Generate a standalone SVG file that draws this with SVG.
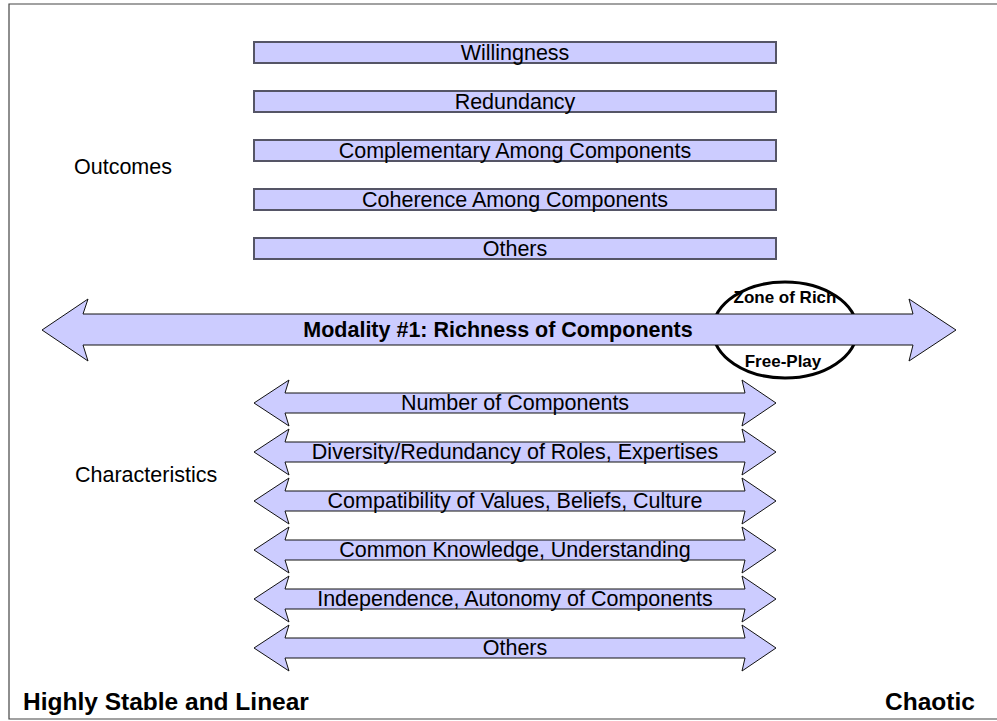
<svg xmlns="http://www.w3.org/2000/svg" width="997" height="721" viewBox="0 0 997 721">
  <style>
    .bg { fill: #ffffff; }
    .frame { fill: none; stroke: #444444; stroke-width: 1.2; }
    .box { fill: #ccccff; stroke: #555566; stroke-width: 2; }
    .arrow { fill: #ccccff; stroke: #111111; stroke-width: 1; stroke-linejoin: miter; }
    .zone { fill: #ffffff; stroke: #000000; stroke-width: 3; }
    .t { font-family: "Liberation Sans", Arial, sans-serif; font-size: 21.5px; fill: #000000; }
    .c { text-anchor: middle; }
    .b { font-weight: bold; }
    .zt { font-family: "Liberation Sans", Arial, sans-serif; font-size: 17px; font-weight: bold; text-anchor: middle; fill: #000000; }
    .end { font-family: "Liberation Sans", Arial, sans-serif; font-size: 24.5px; font-weight: bold; fill: #000000; }
  </style>
  <defs>
    <!-- double-headed characteristic arrow, centred on y = 0 -->
    <path id="charArrow" d="M254,0 L289,-23 L285,-10 L745,-10 L742,-23 L776,0 L742,23 L745,10 L285,10 L289,23 Z"/>
  </defs>

  <rect class="bg" x="0" y="0" width="997" height="721"/>
  <path class="frame" d="M1000,4 L9,4 L9,719 L1000,719"/>

  <!-- side labels -->
  <text class="t" x="74" y="174">Outcomes</text>
  <text class="t" x="75" y="482">Characteristics</text>

  <!-- outcome bars -->
  <g id="outcome-willingness">
    <rect class="box" x="254" y="42" width="522" height="21"/>
    <text class="t c" x="515" y="60">Willingness</text>
  </g>
  <g id="outcome-redundancy">
    <rect class="box" x="254" y="91" width="522" height="21"/>
    <text class="t c" x="515" y="109">Redundancy</text>
  </g>
  <g id="outcome-complementary">
    <rect class="box" x="254" y="140" width="522" height="21"/>
    <text class="t c" x="515" y="158">Complementary Among Components</text>
  </g>
  <g id="outcome-coherence">
    <rect class="box" x="254" y="189" width="522" height="21"/>
    <text class="t c" x="515" y="207">Coherence Among Components</text>
  </g>
  <g id="outcome-others">
    <rect class="box" x="254" y="238" width="522" height="21"/>
    <text class="t c" x="515" y="256">Others</text>
  </g>

  <!-- modality axis with zone of rich free-play -->
  <g id="zone">
    <ellipse class="zone" cx="785" cy="330" rx="72" ry="48"/>
    <text class="zt" x="785" y="303">Zone of Rich</text>
    <text class="zt" x="783" y="367">Free-Play</text>
  </g>
  <g id="modality">
    <path class="arrow" d="M42,330 L88,299 L83,314 L913,314 L909,299 L956,330 L909,361 L913,345 L83,345 L88,361 Z"/>
    <text class="t c b" x="498" y="337">Modality #1: Richness of Components</text>
  </g>

  <!-- characteristic arrows -->
  <g id="char-number">
    <use href="#charArrow" class="arrow" transform="translate(0,403)"/>
    <text class="t c" x="515" y="410">Number of Components</text>
  </g>
  <g id="char-diversity">
    <use href="#charArrow" class="arrow" transform="translate(0,452)"/>
    <text class="t c" x="515" y="459">Diversity/Redundancy of Roles, Expertises</text>
  </g>
  <g id="char-compatibility">
    <use href="#charArrow" class="arrow" transform="translate(0,501)"/>
    <text class="t c" x="515" y="508">Compatibility of Values, Beliefs, Culture</text>
  </g>
  <g id="char-knowledge">
    <use href="#charArrow" class="arrow" transform="translate(0,550)"/>
    <text class="t c" x="515" y="557">Common Knowledge, Understanding</text>
  </g>
  <g id="char-independence">
    <use href="#charArrow" class="arrow" transform="translate(0,599)"/>
    <text class="t c" x="515" y="606">Independence, Autonomy of Components</text>
  </g>
  <g id="char-others">
    <use href="#charArrow" class="arrow" transform="translate(0,648)"/>
    <text class="t c" x="515" y="655">Others</text>
  </g>

  <!-- axis end labels -->
  <text class="end" x="23" y="710">Highly Stable and Linear</text>
  <text class="end" x="885" y="710">Chaotic</text>
</svg>
